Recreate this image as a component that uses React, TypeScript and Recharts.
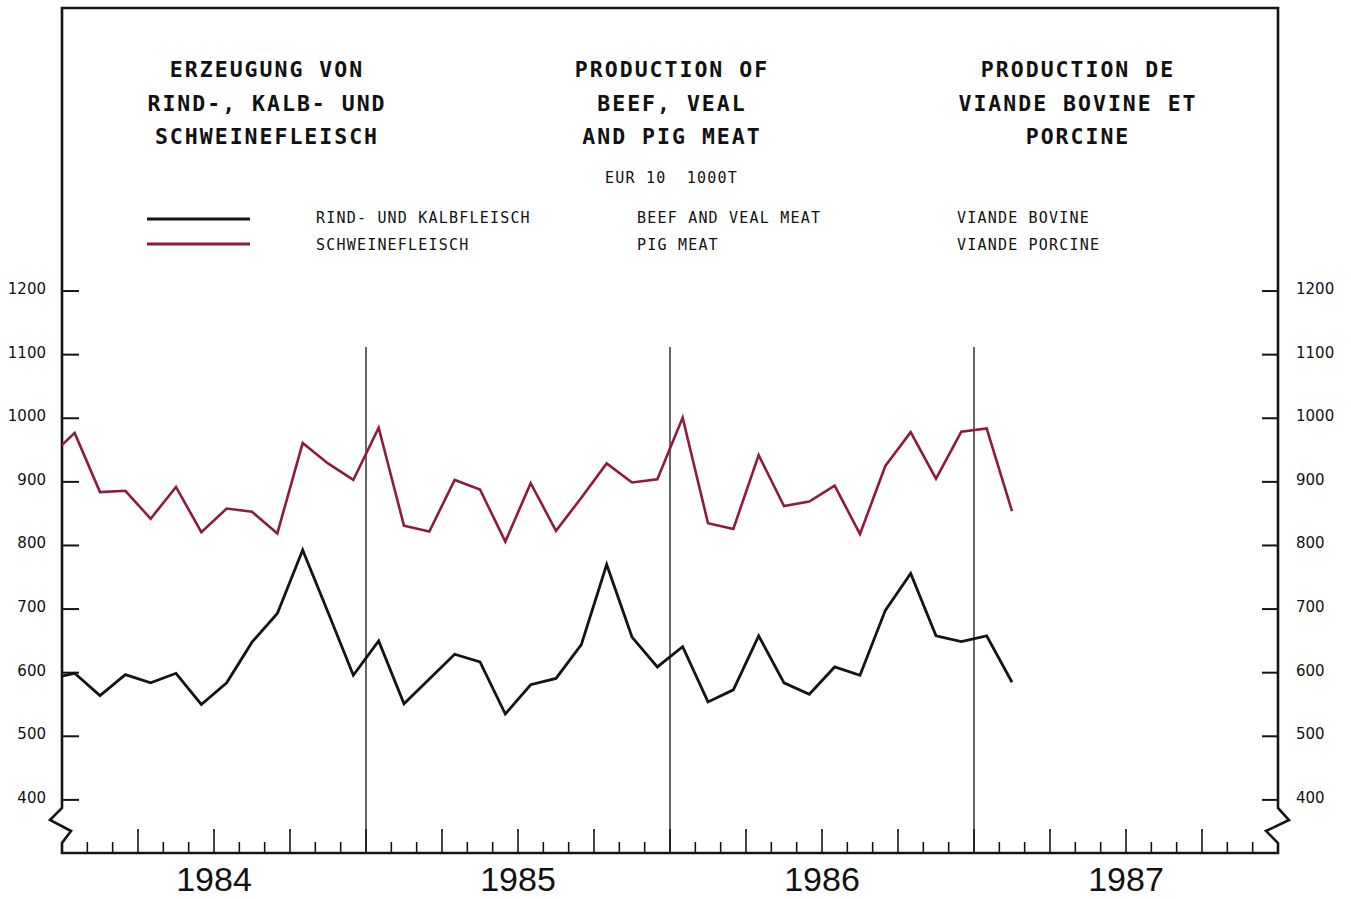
import React from 'react';
import { LineChart, Line, XAxis, YAxis, ReferenceLine } from 'recharts';

// monthly production, EUR 10, 1000 t — first value is Dec 1983 (clipped at the frame)
const beefVeal = [
  590,
  599, 564, 597, 584, 599, 550, 584, 648, 693, 793, 695, 596,
  650, 551, 590, 629, 617, 535, 581, 591, 644, 770, 656, 609,
  641, 554, 573, 658, 584, 566, 609, 596, 698, 756, 658, 649,
  658, 585,
];
const pigMeat = [
  939,
  977, 884, 886, 842, 892, 821, 858, 853, 819, 961, 929, 903,
  985, 831, 822, 903, 888, 806, 898, 823, 875, 929, 899, 904,
  1001, 835, 826, 942, 862, 869, 894, 818, 925, 978, 905, 979,
  984, 854,
];
const years = ['1984', '1985', '1986', '1987'];
const yTicks = [400, 500, 600, 700, 800, 900, 1000, 1100, 1200];
const yearBreaks = [12, 24, 36];

const titleDe = ['ERZEUGUNG VON', 'RIND-, KALB- UND', 'SCHWEINEFLEISCH'];
const titleEn = ['PRODUCTION OF', 'BEEF, VEAL', 'AND PIG MEAT'];
const titleFr = ['PRODUCTION DE', 'VIANDE BOVINE ET', 'PORCINE'];
const unitLabel = 'EUR 10  1000T';
const legendDe = ['RIND- UND KALBFLEISCH', 'SCHWEINEFLEISCH'];
const legendEn = ['BEEF AND VEAL MEAT', 'PIG MEAT'];
const legendFr = ['VIANDE BOVINE', 'VIANDE PORCINE'];

const BLACK = '#141414';
const RED = '#8e1b3d';
const Y_MIN = 316.5;
const Y_MAX = 1645;

const data = beefVeal.map((v, i) => ({ m: i - 0.5, beef: v, pig: pigMeat[i] }));
const monthTicks = Array.from({ length: 49 }, (_, i) => i);

const mono = '"DejaVu Sans Mono", monospace';
const sans = '"DejaVu Sans", sans-serif';

const YTick = (props: any) => {
  const { y, payload, side } = props;
  const left = side === 'left';
  return (
    <g>
      <line x1={left ? 62 : 1262} x2={left ? 79 : 1278} y1={y} y2={y} stroke={BLACK} strokeWidth={2} />
      <text x={left ? 46 : 1296} y={y + 3} textAnchor={left ? 'end' : 'start'} fontFamily={sans} fontSize={15} fill="#111">
        {payload.value}
      </text>
    </g>
  );
};

const XTick = (props: any) => {
  const { x, payload } = props;
  const m = payload.value;
  const h = m % 3 === 0 ? 24 : 11;
  return (
    <g>
      {m > 0 && m < 48 && <line x1={x} x2={x} y1={853} y2={853 - h} stroke={BLACK} strokeWidth={1.6} />}
      {m % 12 === 6 && (
        <text x={x} y={891} textAnchor="middle" fontFamily='"Liberation Sans", Arial, sans-serif' fontSize={34} fill="#111">
          {years[(m - 6) / 12]}
        </text>
      )}
    </g>
  );
};

const TitleBlock = ({ lines, cx }: { lines: string[]; cx: number }) => (
  <g>
    {lines.map((t, i) => (
      <text key={t} x={cx} y={77 + i * 33.5} textAnchor="middle" fontFamily={mono} fontWeight="bold" fontSize={21.5} letterSpacing={2} fill="#111">
        {t}
      </text>
    ))}
  </g>
);

const SmallText = ({ x, y, children }: { x: number; y: number; children: string }) => (
  <text x={x} y={y} fontFamily={mono} fontSize={15} letterSpacing={1.2} fill="#111" style={{ whiteSpace: 'pre' }}>
    {children}
  </text>
);

export default function App() {
  return (
    <div style={{ position: 'absolute', left: 0, top: 0, width: 1351, height: 899, background: '#fff' }}>
      <LineChart width={1351} height={899} data={data} margin={{ top: 8, right: 0, bottom: 0, left: 0 }}>
        <XAxis
          type="number"
          dataKey="m"
          domain={[0, 48]}
          ticks={monthTicks}
          interval={0}
          allowDataOverflow
          height={46}
          axisLine={false}
          tickLine={false}
          tick={<XTick />}
        />
        <YAxis
          yAxisId="l"
          domain={[Y_MIN, Y_MAX]}
          ticks={yTicks}
          interval={0}
          allowDataOverflow
          width={62}
          axisLine={false}
          tickLine={false}
          tick={<YTick side="left" />}
        />
        <YAxis
          yAxisId="r"
          orientation="right"
          domain={[Y_MIN, Y_MAX]}
          ticks={yTicks}
          interval={0}
          allowDataOverflow
          width={73}
          axisLine={false}
          tickLine={false}
          tick={<YTick side="right" />}
        />
        {yearBreaks.map((m) => (
          <ReferenceLine
            key={m}
            yAxisId="l"
            segment={[{ x: m, y: Y_MIN }, { x: m, y: 1112 }]}
            stroke={BLACK}
            strokeWidth={1.3}
          />
        ))}
        <Line yAxisId="l" type="linear" dataKey="pig" stroke={RED} strokeWidth={2.6} dot={false} isAnimationActive={false} />
        <Line yAxisId="l" type="linear" dataKey="beef" stroke={BLACK} strokeWidth={2.8} dot={false} isAnimationActive={false} />

        {/* frame with axis breaks */}
        <path
          d="M62,853 L62,843 L71,831 L50,820 L62,808 L62,8 L1278,8 L1278,808 L1289,820 L1266,831 L1278,843 L1278,853 Z"
          fill="none"
          stroke={BLACK}
          strokeWidth={2.6}
          strokeLinejoin="miter"
        />

        <TitleBlock lines={titleDe} cx={267} />
        <TitleBlock lines={titleEn} cx={672} />
        <TitleBlock lines={titleFr} cx={1078} />
        <SmallText x={605} y={183}>{unitLabel}</SmallText>

        <line x1={147} x2={250} y1={219} y2={219} stroke={BLACK} strokeWidth={3} />
        <line x1={147} x2={250} y1={244} y2={244} stroke={RED} strokeWidth={3} />
        {[legendDe, legendEn, legendFr].map((col, ci) =>
          col.map((t, ri) => (
            <SmallText key={t} x={[316, 637, 957][ci]} y={223 + ri * 27}>{t}</SmallText>
          ))
        )}
      </LineChart>
    </div>
  );
}
